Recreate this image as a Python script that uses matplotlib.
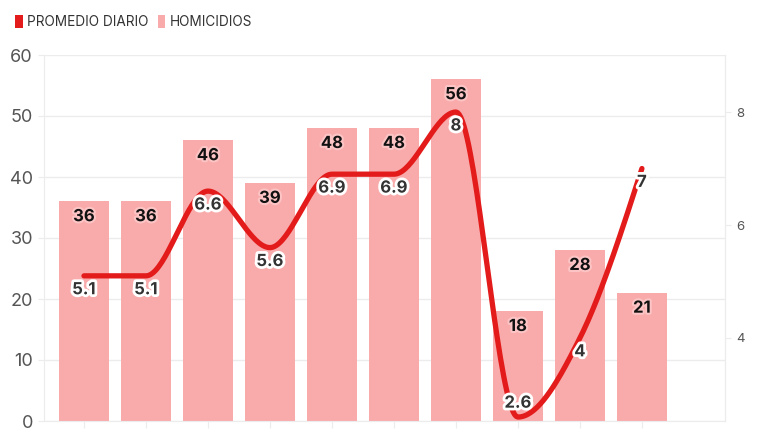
import numpy as np
import matplotlib
matplotlib.use("Agg")
import matplotlib.pyplot as plt
import matplotlib.patheffects as pe
from matplotlib.patches import Patch

plt.rcParams['font.family'] = ['Inter', 'DejaVu Sans']

# data
homicidios = [36, 36, 46, 39, 48, 48, 56, 18, 28, 21]
promedio = [5.1, 5.1, 6.6, 5.6, 6.9, 6.9, 8, 2.6, 4, 7]
left_ticks = [0, 10, 20, 30, 40, 50, 60]
right_ticks = [4, 6, 8]

RED = '#e31b1b'
PINK = '#f9abab'
GRID = '#ececec'


def monotone(x, y, n=40):
    # monotone cubic (like d3.curveMonotoneX), only used for drawing the line
    x = np.asarray(x, float); y = np.asarray(y, float)
    h = np.diff(x); d = np.diff(y) / h
    m = np.zeros_like(y)
    for i in range(1, len(y) - 1):
        if d[i - 1] * d[i] <= 0:
            m[i] = 0
        else:
            p = (d[i - 1] * h[i] + d[i] * h[i - 1]) / (h[i - 1] + h[i])
            m[i] = (np.sign(d[i - 1]) + np.sign(d[i])) * min(abs(d[i - 1]), abs(d[i]), 0.5 * abs(p))
    m[0] = (3 * d[0] - m[1]) / 2
    m[-1] = (3 * d[-1] - m[-2]) / 2
    xs, ys = [], []
    for i in range(len(h)):
        t = np.linspace(0, 1, n)
        h00 = 2*t**3 - 3*t**2 + 1; h10 = t**3 - 2*t**2 + t
        h01 = -2*t**3 + 3*t**2; h11 = t**3 - t**2
        xs.append(x[i] + t * h[i])
        ys.append(h00*y[i] + h10*h[i]*m[i] + h01*y[i+1] + h11*h[i]*m[i+1])
    return np.concatenate(xs), np.concatenate(ys)


fig = plt.figure(figsize=(7.68, 4.32), dpi=100)
ax = fig.add_axes([44/768, 11/432, 681/768, 366/432])
ax2 = ax.twinx()

x = np.arange(len(homicidios))
ax.bar(x, homicidios, width=0.8, color=PINK, zorder=2)
ax.set_xlim(-0.645, 10.34)
ax.set_ylim(0, 60)
ax.set_yticks(left_ticks)
ax.grid(axis='y', color=GRID, lw=1, zorder=0)
ax.set_axisbelow(True)
ax.spines['top'].set_visible(False)
for s in ['left', 'bottom', 'right']:
    ax.spines[s].set_color(GRID)
ax.tick_params(axis='y', colors=GRID, labelcolor='#555555', labelsize=13, length=4, pad=4)
ax.set_xticks(x)
ax.set_xticklabels([])
ax.tick_params(axis='x', colors=GRID, length=5)

for xi, v in zip(x, homicidios):
    ax.annotate(str(v), (xi, v), xytext=(0, -11), textcoords='offset points',
                ha='center', va='center', fontsize=12, fontweight='bold', color='#111111',
                path_effects=[pe.withStroke(linewidth=3, foreground='#fcc4c4')], zorder=3)

xs, ys = monotone(x, promedio)
ax2.plot(xs, ys, color=RED, lw=3.8, solid_capstyle='round', zorder=3)
ax2.set_ylim(2.53, 9.01)
ax2.set_yticks(right_ticks)
for s in ['top', 'left', 'bottom']:
    ax2.spines[s].set_visible(False)
ax2.spines['right'].set_color(GRID)
ax2.tick_params(axis='y', colors=GRID, labelcolor='#555555', labelsize=9.5, length=4, pad=4)

for xi, v in zip(x, promedio):
    off = 10 if v < 3 else -10
    ax2.annotate(f'{v:g}', (xi, v), xytext=(0, off), textcoords='offset points',
                 ha='center', va='center', fontsize=12, fontweight='bold', color='#333333',
                 path_effects=[pe.withStroke(linewidth=4, foreground='white')], zorder=5)

handles = [Patch(facecolor=RED, edgecolor='none'), Patch(facecolor=PINK, edgecolor='none')]
fig.legend(handles, ['PROMEDIO DIARIO', 'HOMICIDIOS'], loc='center left',
           bbox_to_anchor=(0.004, 1 - 22/432), ncol=2, frameon=False,
           fontsize=9.8, handlelength=0.55, handleheight=1.1, handletextpad=0.3,
           columnspacing=0.7, labelcolor='#333333')

fig.savefig('out.png', dpi=100)
